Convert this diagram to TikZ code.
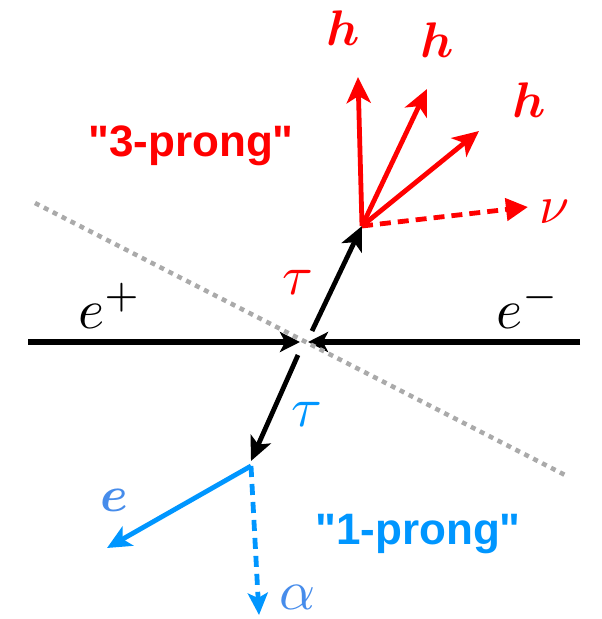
\documentclass[tikz,border=0pt]{standalone}
\usepackage{amsmath}
\usepackage{fontspec}
\newfontfamily\labelfont{Liberation Sans}
\usetikzlibrary{arrows.meta}
\definecolor{myred}{RGB}{255,0,0}
\definecolor{myblue}{RGB}{0,150,255}
\definecolor{lblue}{RGB}{70,140,235}
\definecolor{dotgray}{RGB}{170,170,170}
\begin{document}
\begin{tikzpicture}[x=1pt,y=-1pt,
  beam/.style={line width=5.5pt, -{Stealth[length=20pt,width=20pt,inset=5pt]}},
  tauarrow/.style={line width=4.8pt, -{Stealth[length=24pt,width=22pt,inset=6pt]}},
  redarrow/.style={myred, line width=4.8pt, -{Stealth[length=26pt,width=24pt,inset=7pt]}},
  reddash/.style={myred, line width=4.8pt, dash pattern=on 11pt off 7pt, -{Triangle[length=22pt,width=22pt]}},
  bluearrow/.style={myblue, line width=4.8pt, -{Stealth[length=24pt,width=22pt,inset=6pt]}},
  bluedash/.style={myblue, line width=4.8pt, dash pattern=on 11pt off 7pt, -{Stealth[length=22pt,width=20pt,inset=5pt]}},
  cut/.style={dotgray, line width=4.5pt, dash pattern=on 5pt off 5pt},
  mathlbl/.style={inner sep=0pt, scale=#1},
  prong/.style={inner sep=0pt, font=\labelfont\bfseries\fontsize{44}{50}\selectfont}
]
\useasboundingbox (0,0) rectangle (602,619);
% coordinates
\coordinate (L) at (28,342);
\coordinate (R) at (580,342);
\coordinate (CL) at (300,342);
\coordinate (CR) at (308,342);
\coordinate (G1) at (35,203);
\coordinate (G2) at (565,475);
\coordinate (T1s) at (312,331);
\coordinate (V1) at (362,226);
\coordinate (T2s) at (298,355);
\coordinate (V2) at (251,461);
\coordinate (V2b) at (251,466);
\coordinate (H1) at (358,77);
\coordinate (H2) at (427,89);
\coordinate (H3) at (479,131);
\coordinate (Nu) at (528,207);
\coordinate (E) at (107,548);
\coordinate (A) at (259,615);
% beams
\draw[beam] (L) -- (CL);
\draw[beam] (R) -- (CR);
% cut line
\draw[cut] (G1) -- (G2);
% taus
\draw[tauarrow] (T1s) -- (V1);
\draw[tauarrow] (T2s) -- (V2);
% 3-prong
\draw[redarrow] (V1) -- (H1);
\draw[redarrow] (V1) -- (H2);
\draw[redarrow] (V1) -- (H3);
\draw[reddash] (V1) -- (Nu);
% 1-prong
\draw[bluearrow] (V2b) -- (E);
\draw[bluedash] (V2b) -- (A);
% labels
\node[mathlbl=5.6] (ep) at (110,306) {$e^+$};
\node[mathlbl=5.6] (em) at (528,306) {$e^-$};
\node[mathlbl=5.6, text=myred] (taur) at (298,282) {$\tau$};
\node[mathlbl=5.6, text=myblue] (taub) at (307,414) {$\tau$};
\node[mathlbl=5.0, text=myred] (h1) at (343,28) {$\boldsymbol{h}$};
\node[mathlbl=5.0, text=myred] (h2) at (437,40) {$\boldsymbol{h}$};
\node[mathlbl=5.0, text=myred] (h3) at (529,100) {$\boldsymbol{h}$};
\node[mathlbl=5.4, text=myred] (nu) at (555,212) {$\nu$};
\node[mathlbl=5.0, text=lblue] (el) at (114,500) {$\boldsymbol{e}$};
\node[mathlbl=5.6, text=lblue] (al) at (298,597) {$\alpha$};
\node[prong, text=myred] (p3) at (191,146) {"3-prong"};
\node[prong, text=myblue] (p1) at (418,534) {"1-prong"};
\end{tikzpicture}
\end{document}
